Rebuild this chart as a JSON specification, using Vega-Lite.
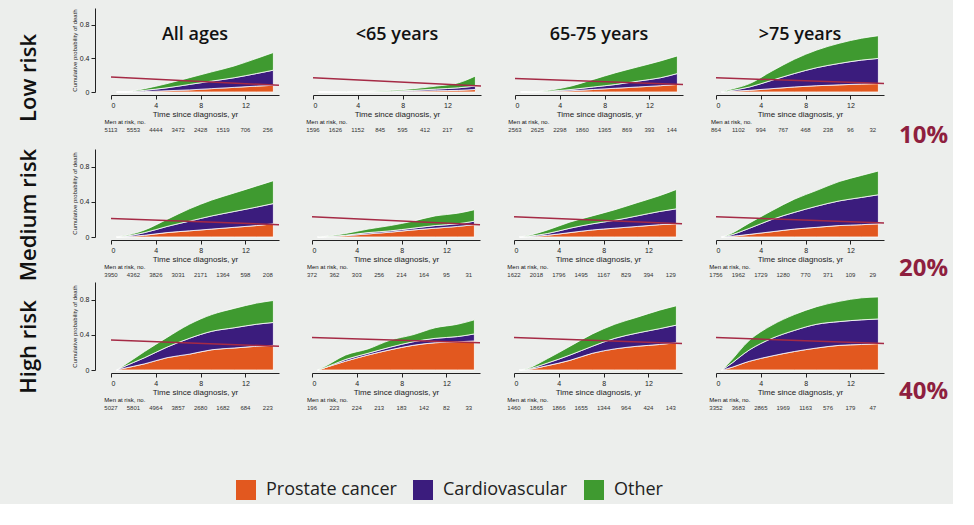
{
"$schema":"https://vega.github.io/schema/vega-lite/v6.json",
"background":"#eceeec",
"padding":{"left":18,"top":8,"right":4,"bottom":4},
"datasets":{
"curves":[
{"r":"L","a":"all","t":0.5,"c1":0,"c2":0,"c3":0},{"r":"L","a":"all","t":1,"c1":0,"c2":0,"c3":0},{"r":"L","a":"all","t":3,"c1":0.005,"c2":0.015,"c3":0.02},{"r":"L","a":"all","t":5,"c1":0.015,"c2":0.035,"c3":0.05},{"r":"L","a":"all","t":7,"c1":0.025,"c2":0.065,"c3":0.08},{"r":"L","a":"all","t":9,"c1":0.04,"c2":0.09,"c3":0.11},{"r":"L","a":"all","t":11,"c1":0.055,"c2":0.115,"c3":0.14},{"r":"L","a":"all","t":13,"c1":0.07,"c2":0.15,"c3":0.18},{"r":"L","a":"all","t":14.5,"c1":0.08,"c2":0.18,"c3":0.21},
{"r":"L","a":"u65","t":0.5,"c1":0,"c2":0,"c3":0},{"r":"L","a":"u65","t":1,"c1":0,"c2":0,"c3":0},{"r":"L","a":"u65","t":3,"c1":0.001,"c2":0.001,"c3":0.003},{"r":"L","a":"u65","t":5,"c1":0.002,"c2":0.003,"c3":0.005},{"r":"L","a":"u65","t":7,"c1":0.005,"c2":0.005,"c3":0.01},{"r":"L","a":"u65","t":9,"c1":0.01,"c2":0.01,"c3":0.02},{"r":"L","a":"u65","t":11,"c1":0.015,"c2":0.02,"c3":0.035},{"r":"L","a":"u65","t":13,"c1":0.02,"c2":0.03,"c3":0.06},{"r":"L","a":"u65","t":14.5,"c1":0.03,"c2":0.04,"c3":0.12},
{"r":"L","a":"m65","t":0.5,"c1":0,"c2":0,"c3":0},{"r":"L","a":"m65","t":1,"c1":0,"c2":0,"c3":0},{"r":"L","a":"m65","t":3,"c1":0.005,"c2":0.005,"c3":0.01},{"r":"L","a":"m65","t":5,"c1":0.015,"c2":0.015,"c3":0.04},{"r":"L","a":"m65","t":7,"c1":0.03,"c2":0.03,"c3":0.09},{"r":"L","a":"m65","t":9,"c1":0.045,"c2":0.045,"c3":0.14},{"r":"L","a":"m65","t":11,"c1":0.06,"c2":0.07,"c3":0.17},{"r":"L","a":"m65","t":13,"c1":0.075,"c2":0.095,"c3":0.2},{"r":"L","a":"m65","t":14.5,"c1":0.09,"c2":0.13,"c3":0.21},
{"r":"L","a":"o75","t":0.5,"c1":0,"c2":0,"c3":0},{"r":"L","a":"o75","t":1,"c1":0.005,"c2":0.005,"c3":0.01},{"r":"L","a":"o75","t":3,"c1":0.02,"c2":0.04,"c3":0.04},{"r":"L","a":"o75","t":5,"c1":0.04,"c2":0.1,"c3":0.11},{"r":"L","a":"o75","t":7,"c1":0.06,"c2":0.16,"c3":0.17},{"r":"L","a":"o75","t":9,"c1":0.075,"c2":0.215,"c3":0.21},{"r":"L","a":"o75","t":11,"c1":0.085,"c2":0.255,"c3":0.24},{"r":"L","a":"o75","t":13,"c1":0.095,"c2":0.285,"c3":0.26},{"r":"L","a":"o75","t":14.5,"c1":0.1,"c2":0.3,"c3":0.27},
{"r":"M","a":"all","t":0.5,"c1":0,"c2":0,"c3":0},{"r":"M","a":"all","t":1,"c1":0.002,"c2":0.003,"c3":0.005},{"r":"M","a":"all","t":3,"c1":0.02,"c2":0.03,"c3":0.03},{"r":"M","a":"all","t":5,"c1":0.05,"c2":0.07,"c3":0.08},{"r":"M","a":"all","t":7,"c1":0.07,"c2":0.11,"c3":0.14},{"r":"M","a":"all","t":9,"c1":0.09,"c2":0.15,"c3":0.18},{"r":"M","a":"all","t":11,"c1":0.11,"c2":0.18,"c3":0.21},{"r":"M","a":"all","t":13,"c1":0.13,"c2":0.21,"c3":0.24},{"r":"M","a":"all","t":14.5,"c1":0.15,"c2":0.23,"c3":0.26},
{"r":"M","a":"u65","t":0.5,"c1":0,"c2":0,"c3":0},{"r":"M","a":"u65","t":1,"c1":0.002,"c2":0.001,"c3":0.002},{"r":"M","a":"u65","t":3,"c1":0.015,"c2":0.005,"c3":0.02},{"r":"M","a":"u65","t":5,"c1":0.035,"c2":0.015,"c3":0.04},{"r":"M","a":"u65","t":7,"c1":0.055,"c2":0.015,"c3":0.06},{"r":"M","a":"u65","t":9,"c1":0.08,"c2":0.02,"c3":0.08},{"r":"M","a":"u65","t":11,"c1":0.1,"c2":0.03,"c3":0.11},{"r":"M","a":"u65","t":13,"c1":0.12,"c2":0.03,"c3":0.12},{"r":"M","a":"u65","t":14.5,"c1":0.14,"c2":0.04,"c3":0.13},
{"r":"M","a":"m65","t":0.5,"c1":0,"c2":0,"c3":0},{"r":"M","a":"m65","t":1,"c1":0.002,"c2":0.003,"c3":0.005},{"r":"M","a":"m65","t":3,"c1":0.02,"c2":0.02,"c3":0.04},{"r":"M","a":"m65","t":5,"c1":0.05,"c2":0.05,"c3":0.07},{"r":"M","a":"m65","t":7,"c1":0.08,"c2":0.07,"c3":0.09},{"r":"M","a":"m65","t":9,"c1":0.1,"c2":0.09,"c3":0.12},{"r":"M","a":"m65","t":11,"c1":0.12,"c2":0.12,"c3":0.15},{"r":"M","a":"m65","t":13,"c1":0.14,"c2":0.15,"c3":0.18},{"r":"M","a":"m65","t":14.5,"c1":0.15,"c2":0.17,"c3":0.22},
{"r":"M","a":"o75","t":0.5,"c1":0,"c2":0,"c3":0},{"r":"M","a":"o75","t":1,"c1":0.004,"c2":0.008,"c3":0.008},{"r":"M","a":"o75","t":3,"c1":0.03,"c2":0.07,"c3":0.06},{"r":"M","a":"o75","t":5,"c1":0.06,"c2":0.14,"c3":0.1},{"r":"M","a":"o75","t":7,"c1":0.09,"c2":0.19,"c3":0.15},{"r":"M","a":"o75","t":9,"c1":0.11,"c2":0.24,"c3":0.18},{"r":"M","a":"o75","t":11,"c1":0.13,"c2":0.28,"c3":0.22},{"r":"M","a":"o75","t":13,"c1":0.14,"c2":0.31,"c3":0.25},{"r":"M","a":"o75","t":14.5,"c1":0.15,"c2":0.33,"c3":0.27},
{"r":"H","a":"all","t":0.5,"c1":0,"c2":0,"c3":0},{"r":"H","a":"all","t":1,"c1":0.015,"c2":0.015,"c3":0.01},{"r":"H","a":"all","t":3,"c1":0.07,"c2":0.07,"c3":0.07},{"r":"H","a":"all","t":5,"c1":0.14,"c2":0.12,"c3":0.11},{"r":"H","a":"all","t":7,"c1":0.18,"c2":0.18,"c3":0.16},{"r":"H","a":"all","t":9,"c1":0.23,"c2":0.21,"c3":0.19},{"r":"H","a":"all","t":11,"c1":0.25,"c2":0.23,"c3":0.22},{"r":"H","a":"all","t":13,"c1":0.27,"c2":0.25,"c3":0.24},{"r":"H","a":"all","t":14.5,"c1":0.28,"c2":0.26,"c3":0.25},
{"r":"H","a":"u65","t":0.5,"c1":0,"c2":0,"c3":0},{"r":"H","a":"u65","t":1,"c1":0.02,"c2":0,"c3":0.01},{"r":"H","a":"u65","t":3,"c1":0.1,"c2":0.02,"c3":0.05},{"r":"H","a":"u65","t":5,"c1":0.17,"c2":0.02,"c3":0.05},{"r":"H","a":"u65","t":7,"c1":0.23,"c2":0.03,"c3":0.08},{"r":"H","a":"u65","t":9,"c1":0.28,"c2":0.04,"c3":0.08},{"r":"H","a":"u65","t":11,"c1":0.31,"c2":0.05,"c3":0.12},{"r":"H","a":"u65","t":13,"c1":0.32,"c2":0.06,"c3":0.14},{"r":"H","a":"u65","t":14.5,"c1":0.33,"c2":0.08,"c3":0.16},
{"r":"H","a":"m65","t":0.5,"c1":0,"c2":0,"c3":0},{"r":"H","a":"m65","t":1,"c1":0.003,"c2":0.003,"c3":0.004},{"r":"H","a":"m65","t":3,"c1":0.05,"c2":0.03,"c3":0.05},{"r":"H","a":"m65","t":5,"c1":0.11,"c2":0.06,"c3":0.1},{"r":"H","a":"m65","t":7,"c1":0.19,"c2":0.08,"c3":0.14},{"r":"H","a":"m65","t":9,"c1":0.24,"c2":0.12,"c3":0.16},{"r":"H","a":"m65","t":11,"c1":0.27,"c2":0.15,"c3":0.18},{"r":"H","a":"m65","t":13,"c1":0.29,"c2":0.18,"c3":0.21},{"r":"H","a":"m65","t":14.5,"c1":0.31,"c2":0.2,"c3":0.22},
{"r":"H","a":"o75","t":0.5,"c1":0,"c2":0,"c3":0},{"r":"H","a":"o75","t":1,"c1":0.015,"c2":0.025,"c3":0.02},{"r":"H","a":"o75","t":3,"c1":0.1,"c2":0.13,"c3":0.11},{"r":"H","a":"o75","t":5,"c1":0.16,"c2":0.2,"c3":0.15},{"r":"H","a":"o75","t":7,"c1":0.21,"c2":0.24,"c3":0.18},{"r":"H","a":"o75","t":9,"c1":0.25,"c2":0.27,"c3":0.2},{"r":"H","a":"o75","t":11,"c1":0.28,"c2":0.27,"c3":0.23},{"r":"H","a":"o75","t":13,"c1":0.29,"c2":0.28,"c3":0.25},{"r":"H","a":"o75","t":14.5,"c1":0.3,"c2":0.28,"c3":0.25}
],
"redline":[
{"r":"L","a":"all","t":0,"y":0.18},{"r":"L","a":"all","t":15,"y":0.08},
{"r":"L","a":"u65","t":0,"y":0.17},{"r":"L","a":"u65","t":15,"y":0.07},
{"r":"L","a":"m65","t":0,"y":0.16},{"r":"L","a":"m65","t":15,"y":0.09},
{"r":"L","a":"o75","t":0,"y":0.17},{"r":"L","a":"o75","t":15,"y":0.1},
{"r":"M","a":"all","t":0,"y":0.21},{"r":"M","a":"all","t":15,"y":0.14},
{"r":"M","a":"u65","t":0,"y":0.23},{"r":"M","a":"u65","t":15,"y":0.14},
{"r":"M","a":"m65","t":0,"y":0.23},{"r":"M","a":"m65","t":15,"y":0.15},
{"r":"M","a":"o75","t":0,"y":0.23},{"r":"M","a":"o75","t":15,"y":0.16},
{"r":"H","a":"all","t":0,"y":0.34},{"r":"H","a":"all","t":15,"y":0.27},
{"r":"H","a":"u65","t":0,"y":0.37},{"r":"H","a":"u65","t":15,"y":0.31},
{"r":"H","a":"m65","t":0,"y":0.37},{"r":"H","a":"m65","t":15,"y":0.3},
{"r":"H","a":"o75","t":0,"y":0.37},{"r":"H","a":"o75","t":15,"y":0.3}
],
"atrisk":[
{"r":"L","a":"all","t":0,"n":"5113"},{"r":"L","a":"all","t":2,"n":"5553"},{"r":"L","a":"all","t":4,"n":"4444"},{"r":"L","a":"all","t":6,"n":"3472"},{"r":"L","a":"all","t":8,"n":"2428"},{"r":"L","a":"all","t":10,"n":"1519"},{"r":"L","a":"all","t":12,"n":"706"},{"r":"L","a":"all","t":14,"n":"256"},
{"r":"L","a":"u65","t":0,"n":"1596"},{"r":"L","a":"u65","t":2,"n":"1626"},{"r":"L","a":"u65","t":4,"n":"1152"},{"r":"L","a":"u65","t":6,"n":"845"},{"r":"L","a":"u65","t":8,"n":"595"},{"r":"L","a":"u65","t":10,"n":"412"},{"r":"L","a":"u65","t":12,"n":"217"},{"r":"L","a":"u65","t":14,"n":"62"},
{"r":"L","a":"m65","t":0,"n":"2563"},{"r":"L","a":"m65","t":2,"n":"2625"},{"r":"L","a":"m65","t":4,"n":"2298"},{"r":"L","a":"m65","t":6,"n":"1860"},{"r":"L","a":"m65","t":8,"n":"1365"},{"r":"L","a":"m65","t":10,"n":"869"},{"r":"L","a":"m65","t":12,"n":"393"},{"r":"L","a":"m65","t":14,"n":"144"},
{"r":"L","a":"o75","t":0,"n":"864"},{"r":"L","a":"o75","t":2,"n":"1102"},{"r":"L","a":"o75","t":4,"n":"994"},{"r":"L","a":"o75","t":6,"n":"767"},{"r":"L","a":"o75","t":8,"n":"468"},{"r":"L","a":"o75","t":10,"n":"238"},{"r":"L","a":"o75","t":12,"n":"96"},{"r":"L","a":"o75","t":14,"n":"32"},
{"r":"M","a":"all","t":0,"n":"3950"},{"r":"M","a":"all","t":2,"n":"4362"},{"r":"M","a":"all","t":4,"n":"3826"},{"r":"M","a":"all","t":6,"n":"3031"},{"r":"M","a":"all","t":8,"n":"2171"},{"r":"M","a":"all","t":10,"n":"1364"},{"r":"M","a":"all","t":12,"n":"598"},{"r":"M","a":"all","t":14,"n":"208"},
{"r":"M","a":"u65","t":0,"n":"372"},{"r":"M","a":"u65","t":2,"n":"362"},{"r":"M","a":"u65","t":4,"n":"303"},{"r":"M","a":"u65","t":6,"n":"256"},{"r":"M","a":"u65","t":8,"n":"214"},{"r":"M","a":"u65","t":10,"n":"164"},{"r":"M","a":"u65","t":12,"n":"95"},{"r":"M","a":"u65","t":14,"n":"31"},
{"r":"M","a":"m65","t":0,"n":"1622"},{"r":"M","a":"m65","t":2,"n":"2018"},{"r":"M","a":"m65","t":4,"n":"1796"},{"r":"M","a":"m65","t":6,"n":"1495"},{"r":"M","a":"m65","t":8,"n":"1167"},{"r":"M","a":"m65","t":10,"n":"829"},{"r":"M","a":"m65","t":12,"n":"394"},{"r":"M","a":"m65","t":14,"n":"129"},
{"r":"M","a":"o75","t":0,"n":"1756"},{"r":"M","a":"o75","t":2,"n":"1962"},{"r":"M","a":"o75","t":4,"n":"1729"},{"r":"M","a":"o75","t":6,"n":"1280"},{"r":"M","a":"o75","t":8,"n":"770"},{"r":"M","a":"o75","t":10,"n":"371"},{"r":"M","a":"o75","t":12,"n":"109"},{"r":"M","a":"o75","t":14,"n":"29"},
{"r":"H","a":"all","t":0,"n":"5027"},{"r":"H","a":"all","t":2,"n":"5801"},{"r":"H","a":"all","t":4,"n":"4964"},{"r":"H","a":"all","t":6,"n":"3857"},{"r":"H","a":"all","t":8,"n":"2680"},{"r":"H","a":"all","t":10,"n":"1682"},{"r":"H","a":"all","t":12,"n":"684"},{"r":"H","a":"all","t":14,"n":"223"},
{"r":"H","a":"u65","t":0,"n":"196"},{"r":"H","a":"u65","t":2,"n":"223"},{"r":"H","a":"u65","t":4,"n":"224"},{"r":"H","a":"u65","t":6,"n":"213"},{"r":"H","a":"u65","t":8,"n":"183"},{"r":"H","a":"u65","t":10,"n":"142"},{"r":"H","a":"u65","t":12,"n":"82"},{"r":"H","a":"u65","t":14,"n":"33"},
{"r":"H","a":"m65","t":0,"n":"1460"},{"r":"H","a":"m65","t":2,"n":"1865"},{"r":"H","a":"m65","t":4,"n":"1866"},{"r":"H","a":"m65","t":6,"n":"1655"},{"r":"H","a":"m65","t":8,"n":"1344"},{"r":"H","a":"m65","t":10,"n":"964"},{"r":"H","a":"m65","t":12,"n":"424"},{"r":"H","a":"m65","t":14,"n":"143"},
{"r":"H","a":"o75","t":0,"n":"3352"},{"r":"H","a":"o75","t":2,"n":"3683"},{"r":"H","a":"o75","t":4,"n":"2865"},{"r":"H","a":"o75","t":6,"n":"1969"},{"r":"H","a":"o75","t":8,"n":"1163"},{"r":"H","a":"o75","t":10,"n":"576"},{"r":"H","a":"o75","t":12,"n":"179"},{"r":"H","a":"o75","t":14,"n":"47"}
]
},
"spacing":0,
"vconcat":[
{"title":{"text":"Low risk","orient":"left","fontSize":22,"anchor":"middle","offset":30},"spacing":24,"hconcat":[
{"spacing":1,"vconcat":[
{"width":168,"height":84,"title":{"text":"All ages","offset":-36},"layer":[
{"data":{"name":"curves"},"transform":[{"filter":"datum.r=='L'&&datum.a=='all'"},{"fold":["c1","c2","c3"],"as":["k","p"]}],"mark":{"type":"area","interpolate":"monotone","stroke":"#ffffff","strokeWidth":0.8},"encoding":{"x":{"field":"t","type":"quantitative","scale":{"domain":[0,15],"nice":false},"axis":{"values":[0,1,2,3,4,5,6,7,8,9,10,11,12,13,14,15],"labelExpr":"datum.value % 2 == 0 && datum.value < 15 ? datum.label : ''","title":"Time since diagnosis, yr"}},"y":{"field":"p","type":"quantitative","stack":"zero","scale":{"domain":[0,1]},"axis":{"values":[0,0.2,0.4,0.6,0.8,1],"format":"~g","title":"Cumulative probability of death","titleFontSize":6}},"order":{"field":"k","sort":"ascending"},"color":{"field":"k","type":"nominal","scale":{"domain":["c1","c2","c3"],"range":["#e2581f","#3b1c7d","#3f9a30"]},"legend":{"title":null,"labelExpr":"datum.label=='c1'?'Prostate cancer':datum.label=='c2'?'Cardiovascular':'Other'"}}}},
{"data":{"name":"redline"},"transform":[{"filter":"datum.r=='L'&&datum.a=='all'"}],"mark":{"type":"line","color":"#a52a45","strokeWidth":1.5},"encoding":{"x":{"field":"t","type":"quantitative"},"y":{"field":"y","type":"quantitative"}}}]},
{"width":168,"height":8,"title":{"text":"Men at risk, no.","anchor":"start","fontSize":6,"fontWeight":"normal","offset":1,"font":"Liberation Sans"},"data":{"name":"atrisk"},"transform":[{"filter":"datum.r=='L'&&datum.a=='all'"}],"mark":{"type":"text","fontSize":6,"color":"#333333"},"encoding":{"x":{"field":"t","type":"quantitative","scale":{"domain":[0,15],"nice":false},"axis":null},"text":{"field":"n","type":"nominal"}}}]},
{"spacing":1,"vconcat":[
{"width":168,"height":84,"title":{"text":"<65 years","offset":-36},"layer":[
{"data":{"name":"curves"},"transform":[{"filter":"datum.r=='L'&&datum.a=='u65'"},{"fold":["c1","c2","c3"],"as":["k","p"]}],"mark":{"type":"area","interpolate":"monotone","stroke":"#ffffff","strokeWidth":0.8},"encoding":{"x":{"field":"t","type":"quantitative","scale":{"domain":[0,15],"nice":false},"axis":{"values":[0,1,2,3,4,5,6,7,8,9,10,11,12,13,14,15],"labelExpr":"datum.value % 2 == 0 && datum.value < 15 ? datum.label : ''","title":"Time since diagnosis, yr"}},"y":{"field":"p","type":"quantitative","stack":"zero","scale":{"domain":[0,1]},"axis":null},"order":{"field":"k","sort":"ascending"},"color":{"field":"k","type":"nominal","scale":{"domain":["c1","c2","c3"],"range":["#e2581f","#3b1c7d","#3f9a30"]},"legend":{"title":null,"labelExpr":"datum.label=='c1'?'Prostate cancer':datum.label=='c2'?'Cardiovascular':'Other'"}}}},
{"data":{"name":"redline"},"transform":[{"filter":"datum.r=='L'&&datum.a=='u65'"}],"mark":{"type":"line","color":"#a52a45","strokeWidth":1.5},"encoding":{"x":{"field":"t","type":"quantitative"},"y":{"field":"y","type":"quantitative"}}}]},
{"width":168,"height":8,"title":{"text":"Men at risk, no.","anchor":"start","fontSize":6,"fontWeight":"normal","offset":1,"font":"Liberation Sans"},"data":{"name":"atrisk"},"transform":[{"filter":"datum.r=='L'&&datum.a=='u65'"}],"mark":{"type":"text","fontSize":6,"color":"#333333"},"encoding":{"x":{"field":"t","type":"quantitative","scale":{"domain":[0,15],"nice":false},"axis":null},"text":{"field":"n","type":"nominal"}}}]},
{"spacing":1,"vconcat":[
{"width":168,"height":84,"title":{"text":"65-75 years","offset":-36},"layer":[
{"data":{"name":"curves"},"transform":[{"filter":"datum.r=='L'&&datum.a=='m65'"},{"fold":["c1","c2","c3"],"as":["k","p"]}],"mark":{"type":"area","interpolate":"monotone","stroke":"#ffffff","strokeWidth":0.8},"encoding":{"x":{"field":"t","type":"quantitative","scale":{"domain":[0,15],"nice":false},"axis":{"values":[0,1,2,3,4,5,6,7,8,9,10,11,12,13,14,15],"labelExpr":"datum.value % 2 == 0 && datum.value < 15 ? datum.label : ''","title":"Time since diagnosis, yr"}},"y":{"field":"p","type":"quantitative","stack":"zero","scale":{"domain":[0,1]},"axis":null},"order":{"field":"k","sort":"ascending"},"color":{"field":"k","type":"nominal","scale":{"domain":["c1","c2","c3"],"range":["#e2581f","#3b1c7d","#3f9a30"]},"legend":{"title":null,"labelExpr":"datum.label=='c1'?'Prostate cancer':datum.label=='c2'?'Cardiovascular':'Other'"}}}},
{"data":{"name":"redline"},"transform":[{"filter":"datum.r=='L'&&datum.a=='m65'"}],"mark":{"type":"line","color":"#a52a45","strokeWidth":1.5},"encoding":{"x":{"field":"t","type":"quantitative"},"y":{"field":"y","type":"quantitative"}}}]},
{"width":168,"height":8,"title":{"text":"Men at risk, no.","anchor":"start","fontSize":6,"fontWeight":"normal","offset":1,"font":"Liberation Sans"},"data":{"name":"atrisk"},"transform":[{"filter":"datum.r=='L'&&datum.a=='m65'"}],"mark":{"type":"text","fontSize":6,"color":"#333333"},"encoding":{"x":{"field":"t","type":"quantitative","scale":{"domain":[0,15],"nice":false},"axis":null},"text":{"field":"n","type":"nominal"}}}]},
{"spacing":1,"title":{"text":"10%","orient":"right","angle":0,"fontSize":24,"color":"#8e1f3f","fontWeight":"bold","anchor":"end","baseline":"bottom","offset":12,"dy":14},"vconcat":[
{"width":168,"height":84,"title":{"text":">75 years","offset":-36},"layer":[
{"data":{"name":"curves"},"transform":[{"filter":"datum.r=='L'&&datum.a=='o75'"},{"fold":["c1","c2","c3"],"as":["k","p"]}],"mark":{"type":"area","interpolate":"monotone","stroke":"#ffffff","strokeWidth":0.8},"encoding":{"x":{"field":"t","type":"quantitative","scale":{"domain":[0,15],"nice":false},"axis":{"values":[0,1,2,3,4,5,6,7,8,9,10,11,12,13,14,15],"labelExpr":"datum.value % 2 == 0 && datum.value < 15 ? datum.label : ''","title":"Time since diagnosis, yr"}},"y":{"field":"p","type":"quantitative","stack":"zero","scale":{"domain":[0,1]},"axis":null},"order":{"field":"k","sort":"ascending"},"color":{"field":"k","type":"nominal","scale":{"domain":["c1","c2","c3"],"range":["#e2581f","#3b1c7d","#3f9a30"]},"legend":{"title":null,"labelExpr":"datum.label=='c1'?'Prostate cancer':datum.label=='c2'?'Cardiovascular':'Other'"}}}},
{"data":{"name":"redline"},"transform":[{"filter":"datum.r=='L'&&datum.a=='o75'"}],"mark":{"type":"line","color":"#a52a45","strokeWidth":1.5},"encoding":{"x":{"field":"t","type":"quantitative"},"y":{"field":"y","type":"quantitative"}}}]},
{"width":168,"height":8,"title":{"text":"Men at risk, no.","anchor":"start","fontSize":6,"fontWeight":"normal","offset":1,"font":"Liberation Sans"},"data":{"name":"atrisk"},"transform":[{"filter":"datum.r=='L'&&datum.a=='o75'"}],"mark":{"type":"text","fontSize":6,"color":"#333333"},"encoding":{"x":{"field":"t","type":"quantitative","scale":{"domain":[0,15],"nice":false},"axis":null},"text":{"field":"n","type":"nominal"}}}]}
]},
{"title":{"text":"Medium risk","orient":"left","fontSize":22,"anchor":"middle","offset":30},"spacing":24,"hconcat":[
{"spacing":1,"vconcat":[
{"width":168,"height":88,"layer":[
{"data":{"name":"curves"},"transform":[{"filter":"datum.r=='M'&&datum.a=='all'"},{"fold":["c1","c2","c3"],"as":["k","p"]}],"mark":{"type":"area","interpolate":"monotone","stroke":"#ffffff","strokeWidth":0.8},"encoding":{"x":{"field":"t","type":"quantitative","scale":{"domain":[0,15],"nice":false},"axis":{"values":[0,1,2,3,4,5,6,7,8,9,10,11,12,13,14,15],"labelExpr":"datum.value % 2 == 0 && datum.value < 15 ? datum.label : ''","title":"Time since diagnosis, yr"}},"y":{"field":"p","type":"quantitative","stack":"zero","scale":{"domain":[0,1]},"axis":{"values":[0,0.2,0.4,0.6,0.8,1],"format":"~g","title":"Cumulative probability of death","titleFontSize":6}},"order":{"field":"k","sort":"ascending"},"color":{"field":"k","type":"nominal","scale":{"domain":["c1","c2","c3"],"range":["#e2581f","#3b1c7d","#3f9a30"]},"legend":{"title":null,"labelExpr":"datum.label=='c1'?'Prostate cancer':datum.label=='c2'?'Cardiovascular':'Other'"}}}},
{"data":{"name":"redline"},"transform":[{"filter":"datum.r=='M'&&datum.a=='all'"}],"mark":{"type":"line","color":"#a52a45","strokeWidth":1.5},"encoding":{"x":{"field":"t","type":"quantitative"},"y":{"field":"y","type":"quantitative"}}}]},
{"width":168,"height":8,"title":{"text":"Men at risk, no.","anchor":"start","fontSize":6,"fontWeight":"normal","offset":1,"font":"Liberation Sans"},"data":{"name":"atrisk"},"transform":[{"filter":"datum.r=='M'&&datum.a=='all'"}],"mark":{"type":"text","fontSize":6,"color":"#333333"},"encoding":{"x":{"field":"t","type":"quantitative","scale":{"domain":[0,15],"nice":false},"axis":null},"text":{"field":"n","type":"nominal"}}}]},
{"spacing":1,"vconcat":[
{"width":168,"height":88,"layer":[
{"data":{"name":"curves"},"transform":[{"filter":"datum.r=='M'&&datum.a=='u65'"},{"fold":["c1","c2","c3"],"as":["k","p"]}],"mark":{"type":"area","interpolate":"monotone","stroke":"#ffffff","strokeWidth":0.8},"encoding":{"x":{"field":"t","type":"quantitative","scale":{"domain":[0,15],"nice":false},"axis":{"values":[0,1,2,3,4,5,6,7,8,9,10,11,12,13,14,15],"labelExpr":"datum.value % 2 == 0 && datum.value < 15 ? datum.label : ''","title":"Time since diagnosis, yr"}},"y":{"field":"p","type":"quantitative","stack":"zero","scale":{"domain":[0,1]},"axis":null},"order":{"field":"k","sort":"ascending"},"color":{"field":"k","type":"nominal","scale":{"domain":["c1","c2","c3"],"range":["#e2581f","#3b1c7d","#3f9a30"]},"legend":{"title":null,"labelExpr":"datum.label=='c1'?'Prostate cancer':datum.label=='c2'?'Cardiovascular':'Other'"}}}},
{"data":{"name":"redline"},"transform":[{"filter":"datum.r=='M'&&datum.a=='u65'"}],"mark":{"type":"line","color":"#a52a45","strokeWidth":1.5},"encoding":{"x":{"field":"t","type":"quantitative"},"y":{"field":"y","type":"quantitative"}}}]},
{"width":168,"height":8,"title":{"text":"Men at risk, no.","anchor":"start","fontSize":6,"fontWeight":"normal","offset":1,"font":"Liberation Sans"},"data":{"name":"atrisk"},"transform":[{"filter":"datum.r=='M'&&datum.a=='u65'"}],"mark":{"type":"text","fontSize":6,"color":"#333333"},"encoding":{"x":{"field":"t","type":"quantitative","scale":{"domain":[0,15],"nice":false},"axis":null},"text":{"field":"n","type":"nominal"}}}]},
{"spacing":1,"vconcat":[
{"width":168,"height":88,"layer":[
{"data":{"name":"curves"},"transform":[{"filter":"datum.r=='M'&&datum.a=='m65'"},{"fold":["c1","c2","c3"],"as":["k","p"]}],"mark":{"type":"area","interpolate":"monotone","stroke":"#ffffff","strokeWidth":0.8},"encoding":{"x":{"field":"t","type":"quantitative","scale":{"domain":[0,15],"nice":false},"axis":{"values":[0,1,2,3,4,5,6,7,8,9,10,11,12,13,14,15],"labelExpr":"datum.value % 2 == 0 && datum.value < 15 ? datum.label : ''","title":"Time since diagnosis, yr"}},"y":{"field":"p","type":"quantitative","stack":"zero","scale":{"domain":[0,1]},"axis":null},"order":{"field":"k","sort":"ascending"},"color":{"field":"k","type":"nominal","scale":{"domain":["c1","c2","c3"],"range":["#e2581f","#3b1c7d","#3f9a30"]},"legend":{"title":null,"labelExpr":"datum.label=='c1'?'Prostate cancer':datum.label=='c2'?'Cardiovascular':'Other'"}}}},
{"data":{"name":"redline"},"transform":[{"filter":"datum.r=='M'&&datum.a=='m65'"}],"mark":{"type":"line","color":"#a52a45","strokeWidth":1.5},"encoding":{"x":{"field":"t","type":"quantitative"},"y":{"field":"y","type":"quantitative"}}}]},
{"width":168,"height":8,"title":{"text":"Men at risk, no.","anchor":"start","fontSize":6,"fontWeight":"normal","offset":1,"font":"Liberation Sans"},"data":{"name":"atrisk"},"transform":[{"filter":"datum.r=='M'&&datum.a=='m65'"}],"mark":{"type":"text","fontSize":6,"color":"#333333"},"encoding":{"x":{"field":"t","type":"quantitative","scale":{"domain":[0,15],"nice":false},"axis":null},"text":{"field":"n","type":"nominal"}}}]},
{"spacing":1,"title":{"text":"20%","orient":"right","angle":0,"fontSize":24,"color":"#8e1f3f","fontWeight":"bold","anchor":"end","baseline":"bottom","offset":12,"dy":2},"vconcat":[
{"width":168,"height":88,"layer":[
{"data":{"name":"curves"},"transform":[{"filter":"datum.r=='M'&&datum.a=='o75'"},{"fold":["c1","c2","c3"],"as":["k","p"]}],"mark":{"type":"area","interpolate":"monotone","stroke":"#ffffff","strokeWidth":0.8},"encoding":{"x":{"field":"t","type":"quantitative","scale":{"domain":[0,15],"nice":false},"axis":{"values":[0,1,2,3,4,5,6,7,8,9,10,11,12,13,14,15],"labelExpr":"datum.value % 2 == 0 && datum.value < 15 ? datum.label : ''","title":"Time since diagnosis, yr"}},"y":{"field":"p","type":"quantitative","stack":"zero","scale":{"domain":[0,1]},"axis":null},"order":{"field":"k","sort":"ascending"},"color":{"field":"k","type":"nominal","scale":{"domain":["c1","c2","c3"],"range":["#e2581f","#3b1c7d","#3f9a30"]},"legend":{"title":null,"labelExpr":"datum.label=='c1'?'Prostate cancer':datum.label=='c2'?'Cardiovascular':'Other'"}}}},
{"data":{"name":"redline"},"transform":[{"filter":"datum.r=='M'&&datum.a=='o75'"}],"mark":{"type":"line","color":"#a52a45","strokeWidth":1.5},"encoding":{"x":{"field":"t","type":"quantitative"},"y":{"field":"y","type":"quantitative"}}}]},
{"width":168,"height":8,"title":{"text":"Men at risk, no.","anchor":"start","fontSize":6,"fontWeight":"normal","offset":1,"font":"Liberation Sans"},"data":{"name":"atrisk"},"transform":[{"filter":"datum.r=='M'&&datum.a=='o75'"}],"mark":{"type":"text","fontSize":6,"color":"#333333"},"encoding":{"x":{"field":"t","type":"quantitative","scale":{"domain":[0,15],"nice":false},"axis":null},"text":{"field":"n","type":"nominal"}}}]}
]},
{"title":{"text":"High risk","orient":"left","fontSize":22,"anchor":"middle","offset":30},"spacing":24,"hconcat":[
{"spacing":1,"vconcat":[
{"width":168,"height":88,"layer":[
{"data":{"name":"curves"},"transform":[{"filter":"datum.r=='H'&&datum.a=='all'"},{"fold":["c1","c2","c3"],"as":["k","p"]}],"mark":{"type":"area","interpolate":"monotone","stroke":"#ffffff","strokeWidth":0.8},"encoding":{"x":{"field":"t","type":"quantitative","scale":{"domain":[0,15],"nice":false},"axis":{"values":[0,1,2,3,4,5,6,7,8,9,10,11,12,13,14,15],"labelExpr":"datum.value % 2 == 0 && datum.value < 15 ? datum.label : ''","title":"Time since diagnosis, yr"}},"y":{"field":"p","type":"quantitative","stack":"zero","scale":{"domain":[0,1]},"axis":{"values":[0,0.2,0.4,0.6,0.8,1],"format":"~g","title":"Cumulative probability of death","titleFontSize":6}},"order":{"field":"k","sort":"ascending"},"color":{"field":"k","type":"nominal","scale":{"domain":["c1","c2","c3"],"range":["#e2581f","#3b1c7d","#3f9a30"]},"legend":{"title":null,"labelExpr":"datum.label=='c1'?'Prostate cancer':datum.label=='c2'?'Cardiovascular':'Other'"}}}},
{"data":{"name":"redline"},"transform":[{"filter":"datum.r=='H'&&datum.a=='all'"}],"mark":{"type":"line","color":"#a52a45","strokeWidth":1.5},"encoding":{"x":{"field":"t","type":"quantitative"},"y":{"field":"y","type":"quantitative"}}}]},
{"width":168,"height":8,"title":{"text":"Men at risk, no.","anchor":"start","fontSize":6,"fontWeight":"normal","offset":1,"font":"Liberation Sans"},"data":{"name":"atrisk"},"transform":[{"filter":"datum.r=='H'&&datum.a=='all'"}],"mark":{"type":"text","fontSize":6,"color":"#333333"},"encoding":{"x":{"field":"t","type":"quantitative","scale":{"domain":[0,15],"nice":false},"axis":null},"text":{"field":"n","type":"nominal"}}}]},
{"spacing":1,"vconcat":[
{"width":168,"height":88,"layer":[
{"data":{"name":"curves"},"transform":[{"filter":"datum.r=='H'&&datum.a=='u65'"},{"fold":["c1","c2","c3"],"as":["k","p"]}],"mark":{"type":"area","interpolate":"monotone","stroke":"#ffffff","strokeWidth":0.8},"encoding":{"x":{"field":"t","type":"quantitative","scale":{"domain":[0,15],"nice":false},"axis":{"values":[0,1,2,3,4,5,6,7,8,9,10,11,12,13,14,15],"labelExpr":"datum.value % 2 == 0 && datum.value < 15 ? datum.label : ''","title":"Time since diagnosis, yr"}},"y":{"field":"p","type":"quantitative","stack":"zero","scale":{"domain":[0,1]},"axis":null},"order":{"field":"k","sort":"ascending"},"color":{"field":"k","type":"nominal","scale":{"domain":["c1","c2","c3"],"range":["#e2581f","#3b1c7d","#3f9a30"]},"legend":{"title":null,"labelExpr":"datum.label=='c1'?'Prostate cancer':datum.label=='c2'?'Cardiovascular':'Other'"}}}},
{"data":{"name":"redline"},"transform":[{"filter":"datum.r=='H'&&datum.a=='u65'"}],"mark":{"type":"line","color":"#a52a45","strokeWidth":1.5},"encoding":{"x":{"field":"t","type":"quantitative"},"y":{"field":"y","type":"quantitative"}}}]},
{"width":168,"height":8,"title":{"text":"Men at risk, no.","anchor":"start","fontSize":6,"fontWeight":"normal","offset":1,"font":"Liberation Sans"},"data":{"name":"atrisk"},"transform":[{"filter":"datum.r=='H'&&datum.a=='u65'"}],"mark":{"type":"text","fontSize":6,"color":"#333333"},"encoding":{"x":{"field":"t","type":"quantitative","scale":{"domain":[0,15],"nice":false},"axis":null},"text":{"field":"n","type":"nominal"}}}]},
{"spacing":1,"vconcat":[
{"width":168,"height":88,"layer":[
{"data":{"name":"curves"},"transform":[{"filter":"datum.r=='H'&&datum.a=='m65'"},{"fold":["c1","c2","c3"],"as":["k","p"]}],"mark":{"type":"area","interpolate":"monotone","stroke":"#ffffff","strokeWidth":0.8},"encoding":{"x":{"field":"t","type":"quantitative","scale":{"domain":[0,15],"nice":false},"axis":{"values":[0,1,2,3,4,5,6,7,8,9,10,11,12,13,14,15],"labelExpr":"datum.value % 2 == 0 && datum.value < 15 ? datum.label : ''","title":"Time since diagnosis, yr"}},"y":{"field":"p","type":"quantitative","stack":"zero","scale":{"domain":[0,1]},"axis":null},"order":{"field":"k","sort":"ascending"},"color":{"field":"k","type":"nominal","scale":{"domain":["c1","c2","c3"],"range":["#e2581f","#3b1c7d","#3f9a30"]},"legend":{"title":null,"labelExpr":"datum.label=='c1'?'Prostate cancer':datum.label=='c2'?'Cardiovascular':'Other'"}}}},
{"data":{"name":"redline"},"transform":[{"filter":"datum.r=='H'&&datum.a=='m65'"}],"mark":{"type":"line","color":"#a52a45","strokeWidth":1.5},"encoding":{"x":{"field":"t","type":"quantitative"},"y":{"field":"y","type":"quantitative"}}}]},
{"width":168,"height":8,"title":{"text":"Men at risk, no.","anchor":"start","fontSize":6,"fontWeight":"normal","offset":1,"font":"Liberation Sans"},"data":{"name":"atrisk"},"transform":[{"filter":"datum.r=='H'&&datum.a=='m65'"}],"mark":{"type":"text","fontSize":6,"color":"#333333"},"encoding":{"x":{"field":"t","type":"quantitative","scale":{"domain":[0,15],"nice":false},"axis":null},"text":{"field":"n","type":"nominal"}}}]},
{"spacing":1,"title":{"text":"40%","orient":"right","angle":0,"fontSize":24,"color":"#8e1f3f","fontWeight":"bold","anchor":"end","baseline":"bottom","offset":12,"dy":-8},"vconcat":[
{"width":168,"height":88,"layer":[
{"data":{"name":"curves"},"transform":[{"filter":"datum.r=='H'&&datum.a=='o75'"},{"fold":["c1","c2","c3"],"as":["k","p"]}],"mark":{"type":"area","interpolate":"monotone","stroke":"#ffffff","strokeWidth":0.8},"encoding":{"x":{"field":"t","type":"quantitative","scale":{"domain":[0,15],"nice":false},"axis":{"values":[0,1,2,3,4,5,6,7,8,9,10,11,12,13,14,15],"labelExpr":"datum.value % 2 == 0 && datum.value < 15 ? datum.label : ''","title":"Time since diagnosis, yr"}},"y":{"field":"p","type":"quantitative","stack":"zero","scale":{"domain":[0,1]},"axis":null},"order":{"field":"k","sort":"ascending"},"color":{"field":"k","type":"nominal","scale":{"domain":["c1","c2","c3"],"range":["#e2581f","#3b1c7d","#3f9a30"]},"legend":{"title":null,"labelExpr":"datum.label=='c1'?'Prostate cancer':datum.label=='c2'?'Cardiovascular':'Other'"}}}},
{"data":{"name":"redline"},"transform":[{"filter":"datum.r=='H'&&datum.a=='o75'"}],"mark":{"type":"line","color":"#a52a45","strokeWidth":1.5},"encoding":{"x":{"field":"t","type":"quantitative"},"y":{"field":"y","type":"quantitative"}}}]},
{"width":168,"height":8,"title":{"text":"Men at risk, no.","anchor":"start","fontSize":6,"fontWeight":"normal","offset":1,"font":"Liberation Sans"},"data":{"name":"atrisk"},"transform":[{"filter":"datum.r=='H'&&datum.a=='o75'"}],"mark":{"type":"text","fontSize":6,"color":"#333333"},"encoding":{"x":{"field":"t","type":"quantitative","scale":{"domain":[0,15],"nice":false},"axis":null},"text":{"field":"n","type":"nominal"}}}]}
]}
],
"config":{
"view":{"stroke":null},
"font":"Liberation Sans",
"axis":{"grid":false,"domainColor":"#222222","tickColor":"#222222","labelColor":"#222222","titleColor":"#222222","labelFontSize":7,"titleFontSize":8,"titleFontWeight":"normal","tickSize":4,"labelPadding":2,"titlePadding":2,"labelOverlap":false},
"axisX":{"offset":3},
"axisY":{"offset":16},
"title":{"font":"Open Sans","fontSize":18,"fontWeight":600,"color":"#111111"},
"legend":{"orient":"none","legendX":125,"legendY":472,"direction":"horizontal","symbolType":"square","symbolSize":400,"symbolStrokeWidth":0,"labelFontSize":18,"labelFont":"Open Sans","labelColor":"#222222","columnPadding":16,"labelOffset":10}
}
}
